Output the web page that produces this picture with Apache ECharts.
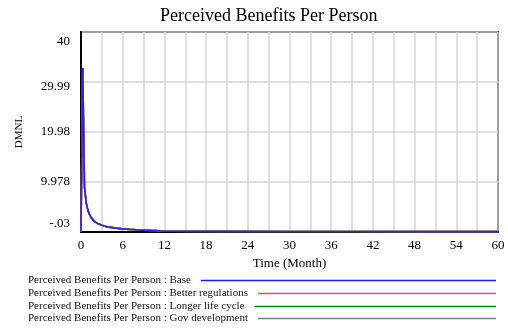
<!DOCTYPE html>
<html>
<head>
<meta charset="utf-8">
<script src="https://cdn.jsdelivr.net/npm/echarts@6/dist/echarts.min.js"></script>
<style>
html,body{margin:0;padding:0;background:#fff;}
#chart{width:508px;height:329px;}
</style>
</head>
<body>
<div id="chart"></div>
<script>
// ---- data ----
var chartTitle = 'Perceived Benefits Per Person';
var xAxisName = 'Time (Month)';
var yAxisName = 'DMNL';
var yTickLabels = ['-.03', '9.978', '19.98', '29.99', '40'];
var seriesNames = [
  'Perceived Benefits Per Person : Base',
  'Perceived Benefits Per Person : Better regulations',
  'Perceived Benefits Per Person : Longer life cycle',
  'Perceived Benefits Per Person : Gov development'
];
var time = [0, 0.25, 0.5, 0.75, 1, 1.25, 1.5, 2, 2.5, 3, 3.5, 4, 5, 6, 7, 8, 9, 10, 10.75, 11, 12, 20, 30, 40, 50, 60];
var baseValues =      [0, 32.8, 9.0, 5.8, 4.3, 3.4, 2.8, 2.0, 1.6, 1.3, 1.1, 0.95, 0.75, 0.6, 0.5, 0.42, 0.35, 0.3, 0.28, 0.12, 0.12, 0.1, 0.08, 0.06, 0.05, 0.05];
var betterRegValues = [0, 32.8, 9.1, 5.9, 4.35, 3.45, 2.85, 2.05, 1.62, 1.32, 1.12, 0.96, 0.76, 0.61, 0.51, 0.43, 0.36, 0.31, 0.28, 0.12, 0.12, 0.1, 0.08, 0.06, 0.05, 0.05];
var longerLifeValues = [0, 32.8, 9.0, 5.8, 4.3, 3.4, 2.8, 2.0, 1.6, 1.3, 1.1, 0.95, 0.75, 0.6, 0.5, 0.42, 0.35, 0.3, 0.28, 0.12, 0.12, 0.1, 0.08, 0.06, 0.05, 0.05];
var govDevValues =    [0, 32.8, 9.0, 5.8, 4.3, 3.4, 2.8, 2.0, 1.6, 1.3, 1.1, 0.95, 0.75, 0.6, 0.5, 0.42, 0.35, 0.3, 0.28, 0.12, 0.12, 0.1, 0.08, 0.06, 0.05, 0.05];

// ---- styling ----
var FONT = '"Liberation Serif", "Times New Roman", "DejaVu Serif", serif';
var colors = ['#1a1aff', '#ff4a4a', '#008000', '#808080'];
var seriesValues = [baseValues, betterRegValues, longerLifeValues, govDevValues];

function pairs(vals) {
  return time.map(function (t, i) { return [t, vals[i]]; });
}

// measure legend text widths
var cv = document.createElement('canvas').getContext('2d');
cv.font = '11px ' + FONT;
var legendLeft = 28;
var lineEnd = 496;
var rowCenters = [279, 292, 305, 317];
var legends = seriesNames.map(function (name, i) {
  var w = cv.measureText(name).width;
  return {
    data: [name],
    left: legendLeft,
    top: rowCenters[i] - 4,
    padding: 0,
    align: 'right',
    icon: 'rect',
    itemHeight: 1.5,
    itemWidth: Math.max(10, lineEnd - (legendLeft + w + 10)),
    selectedMode: false,
    textStyle: { fontFamily: FONT, fontSize: 11, color: '#111', padding: [0, 5, 0, 0] }
  };
});

// per-label vertical shifts (Vensim label placement)
var labelShift = [-8, 0, 0, 5, 10];
var rich = {};
labelShift.forEach(function (s, i) {
  rich['l' + i] = {
    fontFamily: FONT, fontSize: 13, color: '#000',
    padding: s >= 0 ? [2 * s, 0, 0, 0] : [0, 0, -2 * s, 0]
  };
});

var series = [];
// draw in reverse so Base ends up on top
for (var k = seriesNames.length - 1; k >= 0; k--) {
  series.push({
    name: seriesNames[k],
    type: 'line',
    data: pairs(seriesValues[k]),
    showSymbol: false,
    symbol: 'none',
    color: colors[k],
    lineStyle: { color: colors[k], width: 1.6, opacity: k === 0 ? 0.88 : 1 },
    animation: false,
    z: 10 - k
  });
}

var chart = echarts.init(document.getElementById('chart'), null, { renderer: 'canvas' });
chart.setOption({
  animation: false,
  backgroundColor: '#fff',
  title: {
    text: chartTitle,
    left: 155,
    top: 2,
    textStyle: { fontFamily: FONT, fontSize: 18, fontWeight: 'normal', color: '#000' }
  },
  legend: legends,
  grid: {
    left: 81, right: 10, top: 32, bottom: 97,
    show: true, borderColor: '#000', borderWidth: 2, backgroundColor: 'transparent'
  },
  xAxis: {
    type: 'value',
    min: 0, max: 60, interval: 3,
    name: xAxisName,
    nameLocation: 'middle',
    nameGap: 25,
    nameTextStyle: { fontFamily: FONT, fontSize: 13, color: '#000' },
    axisLine: { show: true, lineStyle: { color: '#000', width: 2 } },
    axisTick: { show: false },
    axisLabel: {
      fontFamily: FONT, fontSize: 13, color: '#000', margin: 7,
      formatter: function (v) { return (Math.round(v) % 6 === 0) ? String(Math.round(v)) : ''; }
    },
    splitLine: { show: true, lineStyle: { color: '#d4d4d4', width: 1.5 } }
  },
  yAxis: {
    type: 'value',
    min: -0.03, max: 40, interval: 10.0075,
    name: yAxisName,
    nameLocation: 'middle',
    nameRotate: 90,
    nameGap: 56,
    nameTextStyle: { fontFamily: FONT, fontSize: 11, color: '#000' },
    axisLine: { show: true, lineStyle: { color: '#000', width: 2 } },
    axisTick: { show: false },
    axisLabel: {
      margin: 11,
      formatter: function (v, idx) { return '{l' + idx + '|' + yTickLabels[idx] + '}'; },
      rich: rich
    },
    splitLine: { show: true, lineStyle: { color: '#d4d4d4', width: 1.5 } }
  },
  series: series
});
</script>
</body>
</html>
